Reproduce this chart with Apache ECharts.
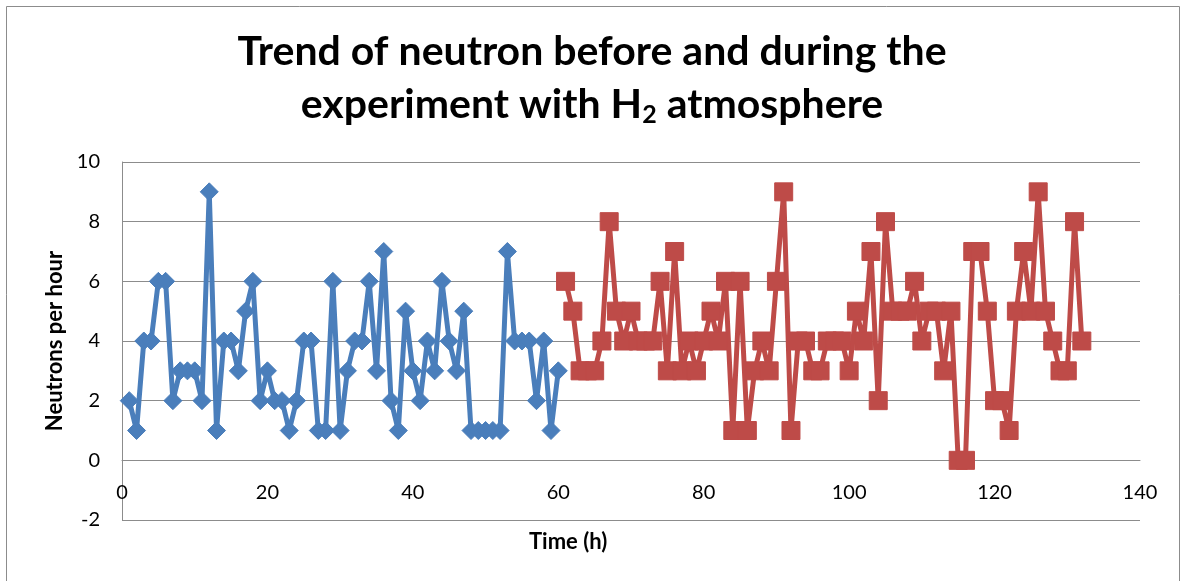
<!DOCTYPE html>
<html>
<head>
<meta charset="utf-8">
<script src="https://cdn.jsdelivr.net/npm/echarts@6/dist/echarts.min.js"></script>
<style>
  html, body { margin: 0; padding: 0; background: #fff; }
  #chart { width: 1184px; height: 581px; }
</style>
</head>
<body>
<div id="chart"></div>
<script>
// hours before the experiment (blue) and during it (red)
const hoursBefore = [1, 2, 3, 4, 5, 6, 7, 8, 9, 10, 11, 12, 13, 14, 15, 16, 17, 18, 19, 20,
  21, 22, 23, 24, 25, 26, 27, 28, 29, 30, 31, 32, 33, 34, 35, 36, 37, 38, 39, 40,
  41, 42, 43, 44, 45, 46, 47, 48, 49, 50, 51, 52, 53, 54, 55, 56, 57, 58, 59, 60];
const neutronsBefore = [2, 1, 4, 4, 6, 6, 2, 3, 3, 3, 2, 9, 1, 4, 4, 3, 5, 6, 2, 3,
  2, 2, 1, 2, 4, 4, 1, 1, 6, 1, 3, 4, 4, 6, 3, 7, 2, 1, 5, 3,
  2, 4, 3, 6, 4, 3, 5, 1, 1, 1, 1, 1, 7, 4, 4, 4, 2, 4, 1, 3];

const hoursDuring = [61, 62, 63, 64, 65, 66, 67, 68, 69, 70, 71, 72, 73, 74, 75, 76, 77, 78, 79, 80,
  81, 82, 83, 84, 85, 86, 87, 88, 89, 90, 91, 92, 93, 94, 95, 96, 97, 98, 99, 100,
  101, 102, 103, 104, 105, 106, 107, 108, 109, 110, 111, 112, 113, 114, 115, 116, 117, 118, 119, 120,
  121, 122, 123, 124, 125, 126, 127, 128, 129, 130, 131, 132];
const neutronsDuring = [6, 5, 3, 3, 3, 4, 8, 5, 4, 5, 4, 4, 4, 6, 3, 7, 3, 4, 3, 4,
  5, 4, 6, 1, 6, 1, 3, 4, 3, 6, 9, 1, 4, 4, 3, 3, 4, 4, 4, 3,
  5, 4, 7, 2, 8, 5, 5, 5, 6, 4, 5, 5, 3, 5, 0, 0, 7, 7, 5, 2,
  2, 1, 5, 7, 5, 9, 5, 4, 3, 3, 8, 4];

const xRange = [0, 140];
const xStep = 20;
const yRange = [-2, 10];
const yStep = 2;

const chart = echarts.init(document.getElementById('chart'));

const pairs = (xs, ys) => xs.map((x, i) => [x, ys[i]]);

// plot box, used to put the x axis on y = 0 like the Excel original
const gridTop = 162;
const gridBottom = 61;
const plotHeight = 581 - gridTop - gridBottom;
const zeroOffset = -plotHeight * (0 - yRange[0]) / (yRange[1] - yRange[0]);

const option = {
  animation: false,
  backgroundColor: '#fff',
  title: {
    text: 'Trend of neutron before and during the\nexperiment with H{sub|2} atmosphere',
    left: 'center',
    top: 20,
    textStyle: {
      fontFamily: 'Lato',
      fontWeight: 'bold',
      fontSize: 41,
      lineHeight: 53,
      color: '#000',
      rich: {
        sub: {
          fontFamily: 'Lato',
          fontWeight: 'bold',
          fontSize: 25,
          lineHeight: 53,
          padding: [20, 0, 0, 0],
          color: '#000'
        }
      }
    }
  },
  graphic: [
    {
      type: 'rect',
      shape: { x: 6.5, y: 6.5, width: 1173, height: 600 },
      style: { fill: 'none', stroke: '#8c8c8c', lineWidth: 1 },
      silent: true
    },
    {
      type: 'text',
      left: 529,
      top: 531,
      style: {
        text: 'Time (h)',
        font: 'bold 22px Lato',
        fill: '#000'
      }
    }
  ],
  grid: {
    left: 122,
    right: 44,
    top: gridTop,
    bottom: gridBottom
  },
  xAxis: {
    type: 'value',
    min: xRange[0],
    max: xRange[1],
    interval: xStep,
    offset: zeroOffset,
    axisLine: { onZero: false, lineStyle: { color: '#8c8c8c', width: 1 } },
    axisTick: { show: false },
    splitLine: { show: false },
    axisLabel: {
      margin: 22,
      fontFamily: 'Lato',
      fontSize: 20,
      color: '#000'
    }
  },
  yAxis: {
    type: 'value',
    min: yRange[0],
    max: yRange[1],
    interval: yStep,
    name: 'Neutrons per hour',
    nameLocation: 'middle',
    nameGap: 55,
    nameTextStyle: {
      fontFamily: 'Lato',
      fontWeight: 'bold',
      fontSize: 22,
      color: '#000'
    },
    axisLine: { show: true, lineStyle: { color: '#8c8c8c', width: 1 } },
    axisTick: { show: false },
    splitLine: { show: true, lineStyle: { color: '#8c8c8c', width: 1 } },
    axisLabel: {
      margin: 22,
      fontFamily: 'Lato',
      fontSize: 20,
      color: '#000'
    }
  },
  series: [
    {
      name: 'Before',
      type: 'line',
      data: pairs(hoursBefore, neutronsBefore),
      symbol: 'diamond',
      symbolSize: 18,
      showAllSymbol: true,
      lineStyle: { color: '#4a7ebb', width: 5 },
      itemStyle: { color: '#4a7ebb', borderColor: '#4a7ebb', borderWidth: 1 }
    },
    {
      name: 'During',
      type: 'line',
      data: pairs(hoursDuring, neutronsDuring),
      symbol: 'rect',
      symbolSize: 18,
      showAllSymbol: true,
      lineStyle: { color: '#be4b48', width: 5 },
      itemStyle: { color: '#be4b48', borderColor: '#be4b48', borderWidth: 1 }
    }
  ]
};

chart.setOption(option);
</script>
</body>
</html>
